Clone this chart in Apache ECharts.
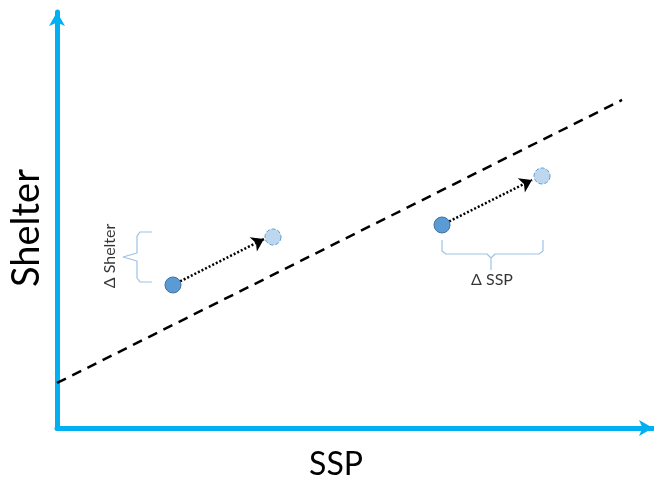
<!DOCTYPE html>
<html><head><meta charset="utf-8">
<script src="https://cdn.jsdelivr.net/npm/echarts@6/dist/echarts.min.js"></script>
<style>html,body{margin:0;padding:0;background:#fff}#c{width:654px;height:478px}</style>
</head><body><div id="c"></div>
<script>
// Data (arbitrary units, 0-100 on both axes)
const trendLine = [[0, 10.82], [94.80, 78.85]];
const startPoints = [[19.46, 34.38], [64.60, 48.80]];
const endPoints = [[36.24, 45.91], [81.38, 60.58]];
const arrowSegments = [
  [[19.46, 34.38], [34.73, 45.43]],
  [[64.60, 48.80], [79.70, 59.62]]
];
const shelterBrace = [[15.94,47.12],[13.93,47.12],[13.42,46.15],[13.42,42.07],[11.07,41.11],[13.42,40.14],[13.42,36.06],[13.93,35.10],[15.94,35.10]];
const sspBrace = [[64.60,45.19],[64.60,42.55],[65.27,41.83],[72.15,41.83],[72.82,40.87],[72.82,37.98],[72.82,40.87],[73.49,41.83],[80.87,41.83],[81.54,42.55],[81.54,45.19]];
const braceLabels = [
  { name: 'Δ Shelter', value: [8.89, 41.35], rotate: 90 },
  { name: 'Δ SSP', value: [72.99, 35.58], rotate: 0 }
];
const xName = 'SSP';
const yName = 'Shelter';

const FONT = 'Lato, "Open Sans", sans-serif';
const axisBlue = '#00b0f0';
const braceColor = '#9dc3e6';

const chart = echarts.init(document.getElementById('c'));
const axisCommon = {
  type: 'value', min: 0, max: 100,
  axisTick: { show: false }, axisLabel: { show: false }, splitLine: { show: false },
  axisLine: { show: true, onZero: false, symbol: ['none', 'arrow'], symbolSize: [12, 14],
    lineStyle: { color: axisBlue, width: 5, cap: 'round' } },
  nameLocation: 'middle'
};
chart.setOption({
  animation: false,
  grid: { left: 57, right: 1, top: 12, bottom: 50, containLabel: false, outerBoundsMode: 'none' },
  xAxis: Object.assign({}, axisCommon, { name: xName, nameGap: 21,
    nameTextStyle: { fontFamily: FONT, color: '#000', fontSize: 32, padding: [0, 38, 0, 0] } }),
  yAxis: Object.assign({}, axisCommon, { name: yName, nameGap: 11,
    nameTextStyle: { fontFamily: FONT, color: '#000', fontSize: 38, padding: [0, 16, 0, 0] } }),
  series: [
    { type: 'line', data: trendLine, showSymbol: false, symbol: 'none',
      lineStyle: { color: '#000', width: 2.5, type: [10, 7] }, z: 2 },
    { type: 'line', data: shelterBrace, showSymbol: false, symbol: 'none',
      lineStyle: { color: braceColor, width: 1.2 } },
    { type: 'line', data: sspBrace, showSymbol: false, symbol: 'none',
      lineStyle: { color: braceColor, width: 1.2 } },
    { type: 'lines', coordinateSystem: 'cartesian2d', polyline: false,
      symbol: ['none', 'arrow'], symbolSize: 12,
      lineStyle: { color: '#000', width: 2.5, type: [2, 2], opacity: 1 },
      data: arrowSegments.map(c => ({ coords: c })), z: 3 },
    { type: 'scatter', data: startPoints, symbolSize: 16,
      itemStyle: { color: '#5b9bd5', borderColor: '#41719c', borderWidth: 1, opacity: 1 }, z: 4 },
    { type: 'scatter', data: endPoints, symbolSize: 16,
      itemStyle: { color: '#bdd7ee', borderColor: '#5b9bd5', borderWidth: 1, borderType: 'dashed', opacity: 1 }, z: 4 },
    { type: 'scatter', symbolSize: 0,
      data: braceLabels.map(d => ({ name: d.name, value: d.value,
        label: { show: true, position: 'inside', formatter: d.name, rotate: d.rotate,
          fontFamily: FONT, fontSize: 16, color: '#000' } })) }
  ]
});
</script></body></html>
